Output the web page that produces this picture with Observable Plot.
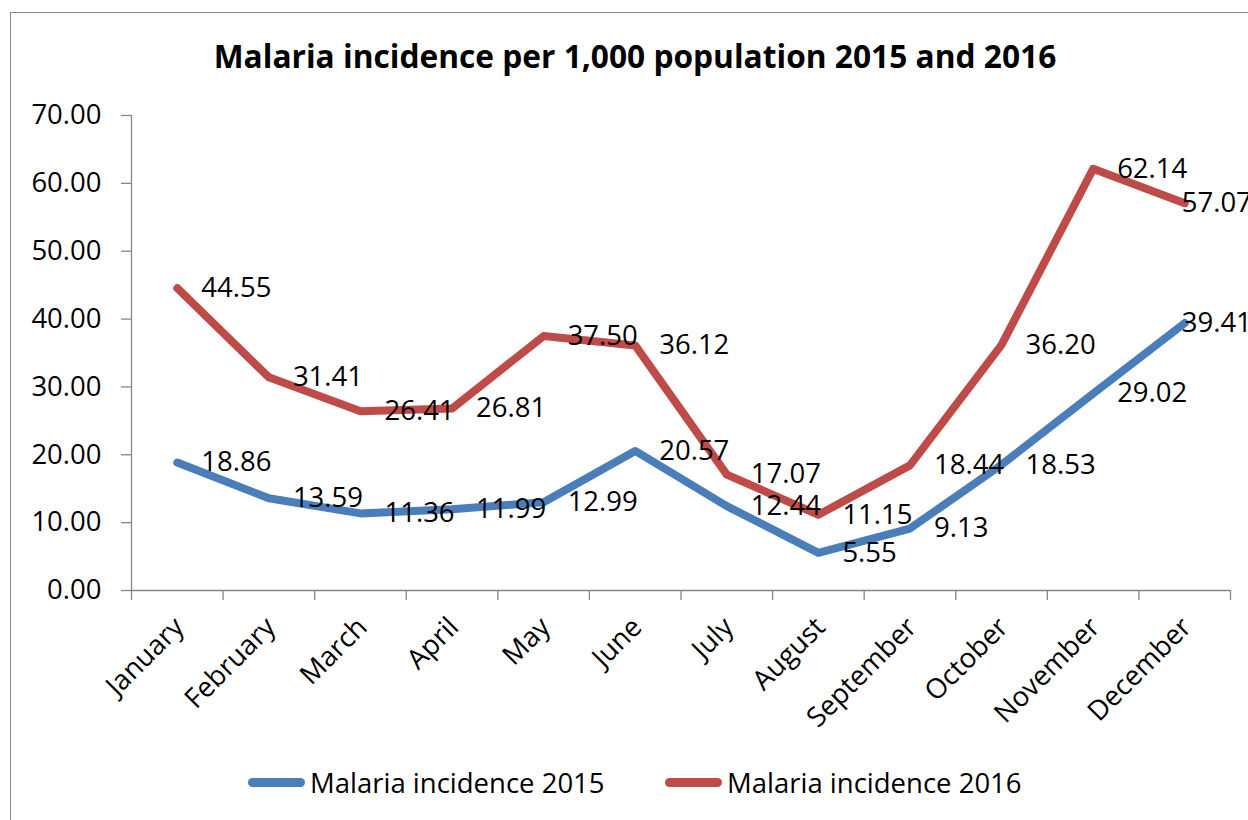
<!DOCTYPE html>
<html>
<head>
<meta charset="utf-8">
<script src="https://cdn.jsdelivr.net/npm/d3@7"></script>
<script src="https://cdn.jsdelivr.net/npm/@observablehq/plot@0.6"></script>
<style>
  html, body { margin: 0; padding: 0; background: #fff; overflow: hidden; }
  body { width: 1248px; height: 820px; position: relative; font-family: "Open Sans", sans-serif; }
  #frame { position: absolute; left: 10px; top: 12px; width: 1300px; height: 900px; border: 1px solid #868686; box-sizing: border-box; }
  #title { position: absolute; left: 0; top: 34px; width: 1270px; text-align: center; font-weight: 700; font-size: 31.7px; line-height: 44px; color: #000; }
  #chart { position: absolute; left: 0; top: 0; }
  #legend { position: absolute; top: 760px; left: 0; width: 1248px; height: 44px; }
  .item { position: absolute; top: 0; display: flex; align-items: center; height: 44px; font-size: 27.5px; color: #000; }
  .swatch { width: 57px; height: 9px; border-radius: 5px; margin-right: 5px; }
</style>
</head>
<body>
<div id="frame"></div>
<div id="title">Malaria incidence per 1,000 population 2015 and 2016</div>
<div id="chart"></div>
<div id="legend"></div>
<script>
// Monthly malaria incidence per 1,000 population
const months = ["January", "February", "March", "April", "May", "June",
  "July", "August", "September", "October", "November", "December"];
const incidence2015 = [18.86, 13.59, 11.36, 11.99, 12.99, 20.57, 12.44, 5.55, 9.13, 18.53, 29.02, 39.41];
const incidence2016 = [44.55, 31.41, 26.41, 26.81, 37.50, 36.12, 17.07, 11.15, 18.44, 36.20, 62.14, 57.07];
const yTicks = [0, 10, 20, 30, 40, 50, 60, 70];

const seriesNames = ["Malaria incidence 2015", "Malaria incidence 2016"];
const seriesColors = ["#4a7ebb", "#be4b48"];

const rows = [
  ...incidence2015.map((v, i) => ({m: i + 1, v, s: seriesNames[0]})),
  ...incidence2016.map((v, i) => ({m: i + 1, v, s: seriesNames[1]}))
];

const axisGray = "#868686";
const fontSize = "27.5px";
const label = d => d.v.toFixed(2);

const chart = Plot.plot({
  width: 1248,
  height: 740,
  marginLeft: 131,
  marginRight: 18,
  marginTop: 115,
  marginBottom: 150,
  style: {fontFamily: "Open Sans, sans-serif", fontSize, color: "#000", background: "transparent", overflow: "visible"},
  x: {type: "linear", domain: [0.5, 12.5]},
  y: {domain: [0, 70]},
  color: {domain: seriesNames, range: seriesColors},
  marks: [
    // axis lines
    Plot.ruleX([0.5], {stroke: axisGray, strokeWidth: 1.3}),
    Plot.ruleY([0], {stroke: axisGray, strokeWidth: 1.3}),
    // y axis: outward ticks with two-decimal labels
    Plot.axisY({ticks: yTicks, tickSize: 10, tickPadding: 20, tickFormat: d => d.toFixed(2),
      stroke: axisGray, strokeWidth: 1.3, fill: "#000", fontSize, label: null}),
    // x axis: tick marks between months
    Plot.axisX({ticks: d3.range(0.5, 13, 1), tickSize: 10, tickFormat: () => "",
      stroke: axisGray, strokeWidth: 1.3, label: null}),
    // x axis: rotated month names
    Plot.axisX({ticks: d3.range(1, 13), tickSize: 0, tickRotate: -45, tickPadding: 32,
      tickFormat: i => months[i - 1], fill: "#000", fontSize, label: null, dx: 2}),
    Plot.line(rows, {x: "m", y: "v", z: "s", stroke: "s", strokeWidth: 8,
      strokeLinejoin: "round", strokeLinecap: "round"}),
    // value labels to the right of each point; the last month's labels sit over the point
    Plot.text(rows.filter(d => d.m < 12), {x: "m", y: "v", text: label, textAnchor: "start",
      dx: 24, fill: "#000", fontSize}),
    Plot.text(rows.filter(d => d.m === 12), {x: "m", y: "v", text: label, textAnchor: "start",
      dx: -3, fill: "#000", fontSize})
  ]
});
document.getElementById("chart").appendChild(chart);

// legend below the plot
const legend = document.getElementById("legend");
const legendLeft = [248, 665];
seriesNames.forEach((name, i) => {
  const item = document.createElement("div");
  item.className = "item";
  item.style.left = legendLeft[i] + "px";
  const sw = document.createElement("div");
  sw.className = "swatch";
  sw.style.background = seriesColors[i];
  const text = document.createElement("span");
  text.textContent = name;
  item.appendChild(sw);
  item.appendChild(text);
  legend.appendChild(item);
});
</script>
</body>
</html>
